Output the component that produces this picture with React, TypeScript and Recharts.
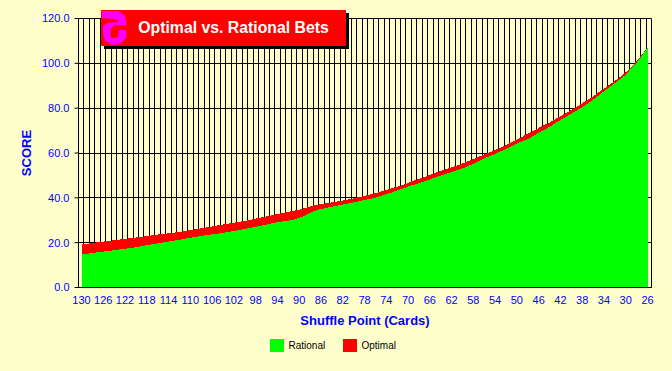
import { AreaChart, Area, XAxis, YAxis, CartesianGrid, Legend } from 'recharts'

const cards = [
  130, 129, 128, 127, 126, 125, 124, 123, 122, 121, 120, 119, 118, 117, 116, 115, 114, 113, 112, 111, 110,
  109, 108, 107, 106, 105, 104, 103, 102, 101, 100, 99, 98, 97, 96, 95, 94, 93, 92, 91, 90,
  89, 88, 87, 86, 85, 84, 83, 82, 81, 80, 79, 78, 77, 76, 75, 74, 73, 72, 71, 70,
  69, 68, 67, 66, 65, 64, 63, 62, 61, 60, 59, 58, 57, 56, 55, 54, 53, 52, 51, 50,
  49, 48, 47, 46, 45, 44, 43, 42, 41, 40, 39, 38, 37, 36, 35, 34, 33, 32, 31, 30,
  29, 28, 27, 26,
]

const optimal = [
  19.2, 19.5, 19.8, 20.2, 20.5, 20.8, 21.1, 21.4, 21.7, 22.0, 22.3, 22.6, 22.9, 23.3, 23.6, 23.9, 24.2, 24.5, 24.8, 25.2, 25.6,
  26.0, 26.4, 26.8, 27.2, 27.7, 28.1, 28.5, 28.9, 29.3, 29.7, 30.2, 30.7, 31.2, 31.7, 32.2, 32.8, 33.3, 33.8, 34.2, 34.7,
  35.4, 36.2, 36.8, 37.2, 37.6, 38.0, 38.4, 38.8, 39.3, 39.8, 40.3, 40.9, 41.5, 42.1, 42.8, 43.5, 44.2, 45.0, 45.8, 46.6,
  47.7, 48.4, 49.2, 50.2, 51.1, 52.0, 52.8, 53.6, 54.4, 55.4, 56.3, 57.3, 58.3, 59.3, 60.3, 61.3, 62.4, 63.6, 64.8, 66.1,
  67.3, 68.6, 69.9, 71.2, 72.4, 73.6, 75.0, 76.4, 77.8, 79.2, 80.6, 82.2, 83.7, 85.3, 87.0, 88.7, 90.4, 92.2, 94.0, 96.0,
  98.3, 100.9, 103.9, 107.0,
]

const rational = [
  14.7, 15.0, 15.4, 15.7, 16.0, 16.3, 16.6, 17.0, 17.3, 17.6, 18.0, 18.4, 18.9, 19.3, 19.7, 20.1, 20.5, 20.9, 21.3, 21.8, 22.2,
  22.6, 23.0, 23.4, 23.7, 24.0, 24.4, 24.8, 25.2, 25.6, 26.1, 26.6, 27.1, 27.6, 28.1, 28.6, 29.2, 29.5, 29.8, 30.3, 31.1,
  32.0, 33.3, 34.3, 35.0, 35.5, 36.0, 36.5, 37.0, 37.5, 38.0, 38.5, 39.0, 39.5, 40.1, 40.8, 41.6, 42.4, 43.3, 44.1, 45.0,
  45.8, 46.5, 47.3, 48.2, 49.1, 49.9, 50.7, 51.5, 52.3, 53.1, 54.1, 55.2, 56.4, 57.6, 58.6, 59.6, 60.7, 61.8, 63.0, 64.2,
  65.2, 66.2, 67.6, 69.0, 70.2, 71.7, 73.2, 74.7, 76.1, 77.5, 79.0, 80.4, 82.0, 83.8, 85.6, 87.5, 89.4, 91.2, 92.9, 95.0,
  97.6, 100.3, 103.5, 107.0,
]

const yTicks = [0, 20, 40, 60, 80, 100, 120]
const legendItems = [
  { name: 'Rational', color: '#00ff00' },
  { name: 'Optimal', color: '#ff0000' },
]

const data = cards.map((card, i) => ({ card, optimal: optimal[i], rational: rational[i] }))

const BG = '#ffffcc'
const FONT = '"Liberation Sans", Arial, sans-serif'

function ChartLegend() {
  return (
    <div style={{ display: 'flex', justifyContent: 'center', paddingLeft: 33, fontFamily: FONT, fontSize: 10, color: '#000' }}>
      {legendItems.map(item => (
        <div key={item.name} style={{ display: 'flex', alignItems: 'center', width: 73 }}>
          <span style={{ width: 14, height: 13, background: item.color, marginRight: 5 }} />
          {item.name}
        </div>
      ))}
    </div>
  )
}

// grid lines sit on the category boundaries, the points in between
function verticalLines({ offset }: any) {
  return cards
    .map((_, i) => offset.left + (i * offset.width) / cards.length)
    .concat(offset.left + offset.width)
    .map((x: number) => Math.round(x - 0.5) + 0.5)
}

function horizontalLines({ offset }: any) {
  return yTicks.map(t => Math.round(offset.top + offset.height * (1 - t / 120) - 0.5) + 0.5)
}

export default function App() {
  return (
    <div style={{ position: 'absolute', left: 0, top: 0, width: 672, height: 371, background: BG, overflow: 'hidden' }}>
      <AreaChart
        width={672}
        height={371}
        data={data}
        margin={{ top: 18.5, right: 20.5, left: 0.5, bottom: 12.5 }}
      >
        <CartesianGrid
          stroke="#000"
          strokeWidth={1}
          verticalCoordinatesGenerator={verticalLines}
          horizontalCoordinatesGenerator={horizontalLines}
        />
        <XAxis
          dataKey="card"
          interval={0}
          height={51}
          padding={{ left: 3, right: 4 }}
          tickLine={false}
          stroke="#000"
          tick={{ fontSize: 11, fill: '#0000ff', fontFamily: FONT }}
          tickMargin={3}
          tickFormatter={(v: number) => ((130 - v) % 4 === 0 ? String(v) : '')}
          label={{
            value: 'Shuffle Point (Cards)',
            position: 'insideBottom',
            offset: 14,
            style: { fontSize: 13, fontWeight: 'bold', fill: '#0000ff', fontFamily: FONT },
          }}
        />
        <YAxis
          width={78}
          domain={[0, 120]}
          ticks={yTicks}
          interval={0}
          stroke="#000"
          tickSize={4}
          tickMargin={5}
          tick={{ fontSize: 11, fill: '#0000ff', fontFamily: FONT }}
          tickFormatter={(v: number) => v.toFixed(1)}
          label={{
            value: 'SCORE',
            angle: -90,
            position: 'insideLeft',
            offset: 26,
            style: { fontSize: 13, fontWeight: 'bold', fill: '#0000ff', fontFamily: FONT, textAnchor: 'middle' },
          }}
        />
        <Area dataKey="optimal" name="Optimal" type="linear" fill="#ff0000" fillOpacity={1} stroke="none" shapeRendering="crispEdges" isAnimationActive={false} />
        <Area dataKey="rational" name="Rational" type="linear" fill="#00ff00" fillOpacity={1} stroke="none" shapeRendering="crispEdges" isAnimationActive={false} />
        <Legend content={<ChartLegend />} height={20} verticalAlign="bottom" />
      </AreaChart>

      <div
        style={{
          position: 'absolute',
          left: 101,
          top: 10,
          width: 245,
          height: 36,
          background: '#ff0000',
          boxShadow: '3px 3px 0 #000',
          color: '#fff',
          fontFamily: FONT,
          fontWeight: 'bold',
          fontSize: 15.8,
          lineHeight: '36px',
          textAlign: 'center',
          textIndent: 20,
        }}
      >
        Optimal vs. Rational Bets
      </div>
      <svg style={{ position: 'absolute', left: 98, top: 6 }} width={40} height={44} viewBox="0 0 120 132">
        <polygon
          fill="#ff00ff"
          points="12,15 60,15 80,28 85,45 85,58 50,58 38,68 38,92 48,97 60,92 62,72 85,72 85,92 72,112 45,118 22,105 15,85 15,60 28,50 60,48 60,40 12,36"
        />
      </svg>
    </div>
  )
}
